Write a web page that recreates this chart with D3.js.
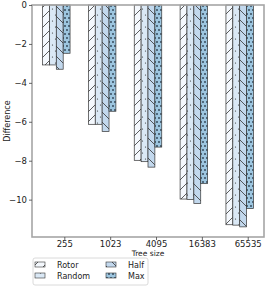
<!DOCTYPE html>
<html>
<head>
<meta charset="utf-8">
<script src="https://cdn.jsdelivr.net/npm/d3@7"></script>
<style>
  body { margin: 0; background: #fff; }
  text { font-family: "DejaVu Sans", sans-serif; fill: #222; }
</style>
</head>
<body>
<svg width="268" height="286"></svg>
<script>
// Data
var treeSizes = ["255", "1023", "4095", "16383", "65535"];
var seriesNames = ["Rotor", "Random", "Half", "Max"];
var rotor  = [-3.08, -6.13, -7.98, -9.97, -11.29];
var random = [-3.08, -6.13, -8.05, -10.0, -11.31];
var half   = [-3.30, -6.50, -8.33, -10.20, -11.40];
var maxv   = [-2.48, -5.46, -7.30, -9.18, -10.46];
var yTicks = [0, -2, -4, -6, -8, -10];

var series = [rotor, random, half, maxv];
var fills = ["#f4f8fd", "#dae8f5", "#c2d8ed", "#9dc6e0"];
var barW = 0.15;

// The svg
var svg = d3.select("svg"),
    width = +svg.attr("width"),
    height = +svg.attr("height");

var plotL = 32, plotR = 264, plotT = 5, plotB = 237;

// Scales
var x = d3.scaleLinear()
    .domain([-0.305, 4.755])
    .range([plotL, plotR]);

var y = d3.scaleLinear()
    .domain([-11.92, 0])
    .range([plotB, plotT]);

// Hatch patterns
var defs = svg.append("defs");
var hatch = "#333";
var hs = 10;

var p0 = defs.append("pattern").attr("id", "h0")
    .attr("patternUnits", "userSpaceOnUse").attr("width", hs).attr("height", hs);
p0.append("rect").attr("width", hs).attr("height", hs).attr("fill", fills[0]);
p0.append("path").attr("d", "M0," + hs + "L" + hs + ",0M-3,3L3,-3M" + (hs - 3) + "," + (hs + 3) + "L" + (hs + 3) + "," + (hs - 3))
    .attr("stroke", hatch).attr("stroke-width", 0.8);

var p1 = defs.append("pattern").attr("id", "h1")
    .attr("patternUnits", "userSpaceOnUse").attr("width", 6).attr("height", 12);
p1.append("rect").attr("width", 6).attr("height", 12).attr("fill", fills[1]);
p1.append("circle").attr("cx", 1.5).attr("cy", 3).attr("r", 0.6).attr("fill", hatch);
p1.append("circle").attr("cx", 4.5).attr("cy", 9).attr("r", 0.6).attr("fill", hatch);

var p2 = defs.append("pattern").attr("id", "h2")
    .attr("patternUnits", "userSpaceOnUse").attr("width", hs).attr("height", hs);
p2.append("rect").attr("width", hs).attr("height", hs).attr("fill", fills[2]);
p2.append("path").attr("d", "M0,0L" + hs + "," + hs + "M-3," + (hs - 3) + "L3," + (hs + 3) + "M" + (hs - 3) + ",-3L" + (hs + 3) + ",3")
    .attr("stroke", hatch).attr("stroke-width", 0.8);

var p3 = defs.append("pattern").attr("id", "h3")
    .attr("patternUnits", "userSpaceOnUse").attr("width", 4).attr("height", 8);
p3.append("rect").attr("width", 4).attr("height", 8).attr("fill", fills[3]);
p3.append("circle").attr("cx", 1).attr("cy", 2).attr("r", 0.9).attr("fill", "#2c3e50");
p3.append("circle").attr("cx", 3).attr("cy", 6).attr("r", 0.9).attr("fill", "#2c3e50");

// Bars
series.forEach(function (vals, k) {
    svg.append("g")
        .selectAll("rect")
        .data(vals)
        .enter()
        .append("rect")
        .attr("x", function (d, i) { return x(i + (k - 0.5) * barW); })
        .attr("width", x(barW) - x(0))
        .attr("y", y(0))
        .attr("height", function (d) { return y(d) - y(0); })
        .attr("fill", "url(#h" + k + ")")
        .attr("stroke", "#333")
        .attr("stroke-width", 0.7);
});

// Frame
svg.append("rect")
    .attr("x", plotL).attr("y", plotT)
    .attr("width", plotR - plotL).attr("height", plotB - plotT)
    .attr("fill", "none")
    .attr("stroke", "#a6a6a6")
    .attr("stroke-width", 1.6);

// Y axis
var yAxis = svg.append("g")
    .attr("transform", "translate(" + plotL + ",0)")
    .call(d3.axisLeft(y).tickValues(yTicks).tickSize(3).tickPadding(2));
yAxis.select(".domain").remove();
yAxis.selectAll("line").attr("stroke", "#444").attr("stroke-width", 0.8);
yAxis.selectAll("text").style("font-size", "8.5px").attr("fill", "#222");

// X axis
var xAxis = svg.append("g")
    .attr("transform", "translate(0," + plotB + ")")
    .call(d3.axisBottom(x)
        .tickValues(d3.range(treeSizes.length).map(function (i) { return i + 0.4; }))
        .tickFormat(function (d, i) { return treeSizes[i]; })
        .tickSize(3).tickPadding(1));
xAxis.select(".domain").remove();
xAxis.selectAll("line").attr("stroke", "#444").attr("stroke-width", 0.8);
xAxis.selectAll("text").style("font-size", "8.5px").attr("fill", "#222");

// Axis labels
svg.append("text")
    .attr("x", (plotL + plotR) / 2)
    .attr("y", 255.5)
    .attr("text-anchor", "middle")
    .style("font-size", "7.5px")
    .text("Tree size");

svg.append("text")
    .attr("transform", "translate(10," + (plotT + plotB) / 2 + ") rotate(-90)")
    .attr("text-anchor", "middle")
    .style("font-size", "8px")
    .text("Difference");

// Legend
var legend = svg.append("g");
legend.append("rect")
    .attr("x", 33).attr("y", 258)
    .attr("width", 115).attr("height", 27)
    .attr("rx", 2)
    .attr("fill", "#fff")
    .attr("stroke", "#d0d0d0")
    .attr("stroke-width", 0.8);

seriesNames.forEach(function (name, k) {
    var col = Math.floor(k / 2), row = k % 2;
    var lx = 35 + col * 71, ly = 262 + row * 11;
    legend.append("rect")
        .attr("x", lx).attr("y", ly)
        .attr("width", 10).attr("height", 5)
        .attr("fill", "url(#h" + k + ")")
        .attr("stroke", "#333")
        .attr("stroke-width", 0.6);
    legend.append("text")
        .attr("x", lx + 22)
        .attr("y", ly + 5.5)
        .style("font-size", "8px")
        .text(name);
});
</script>
</body>
</html>
